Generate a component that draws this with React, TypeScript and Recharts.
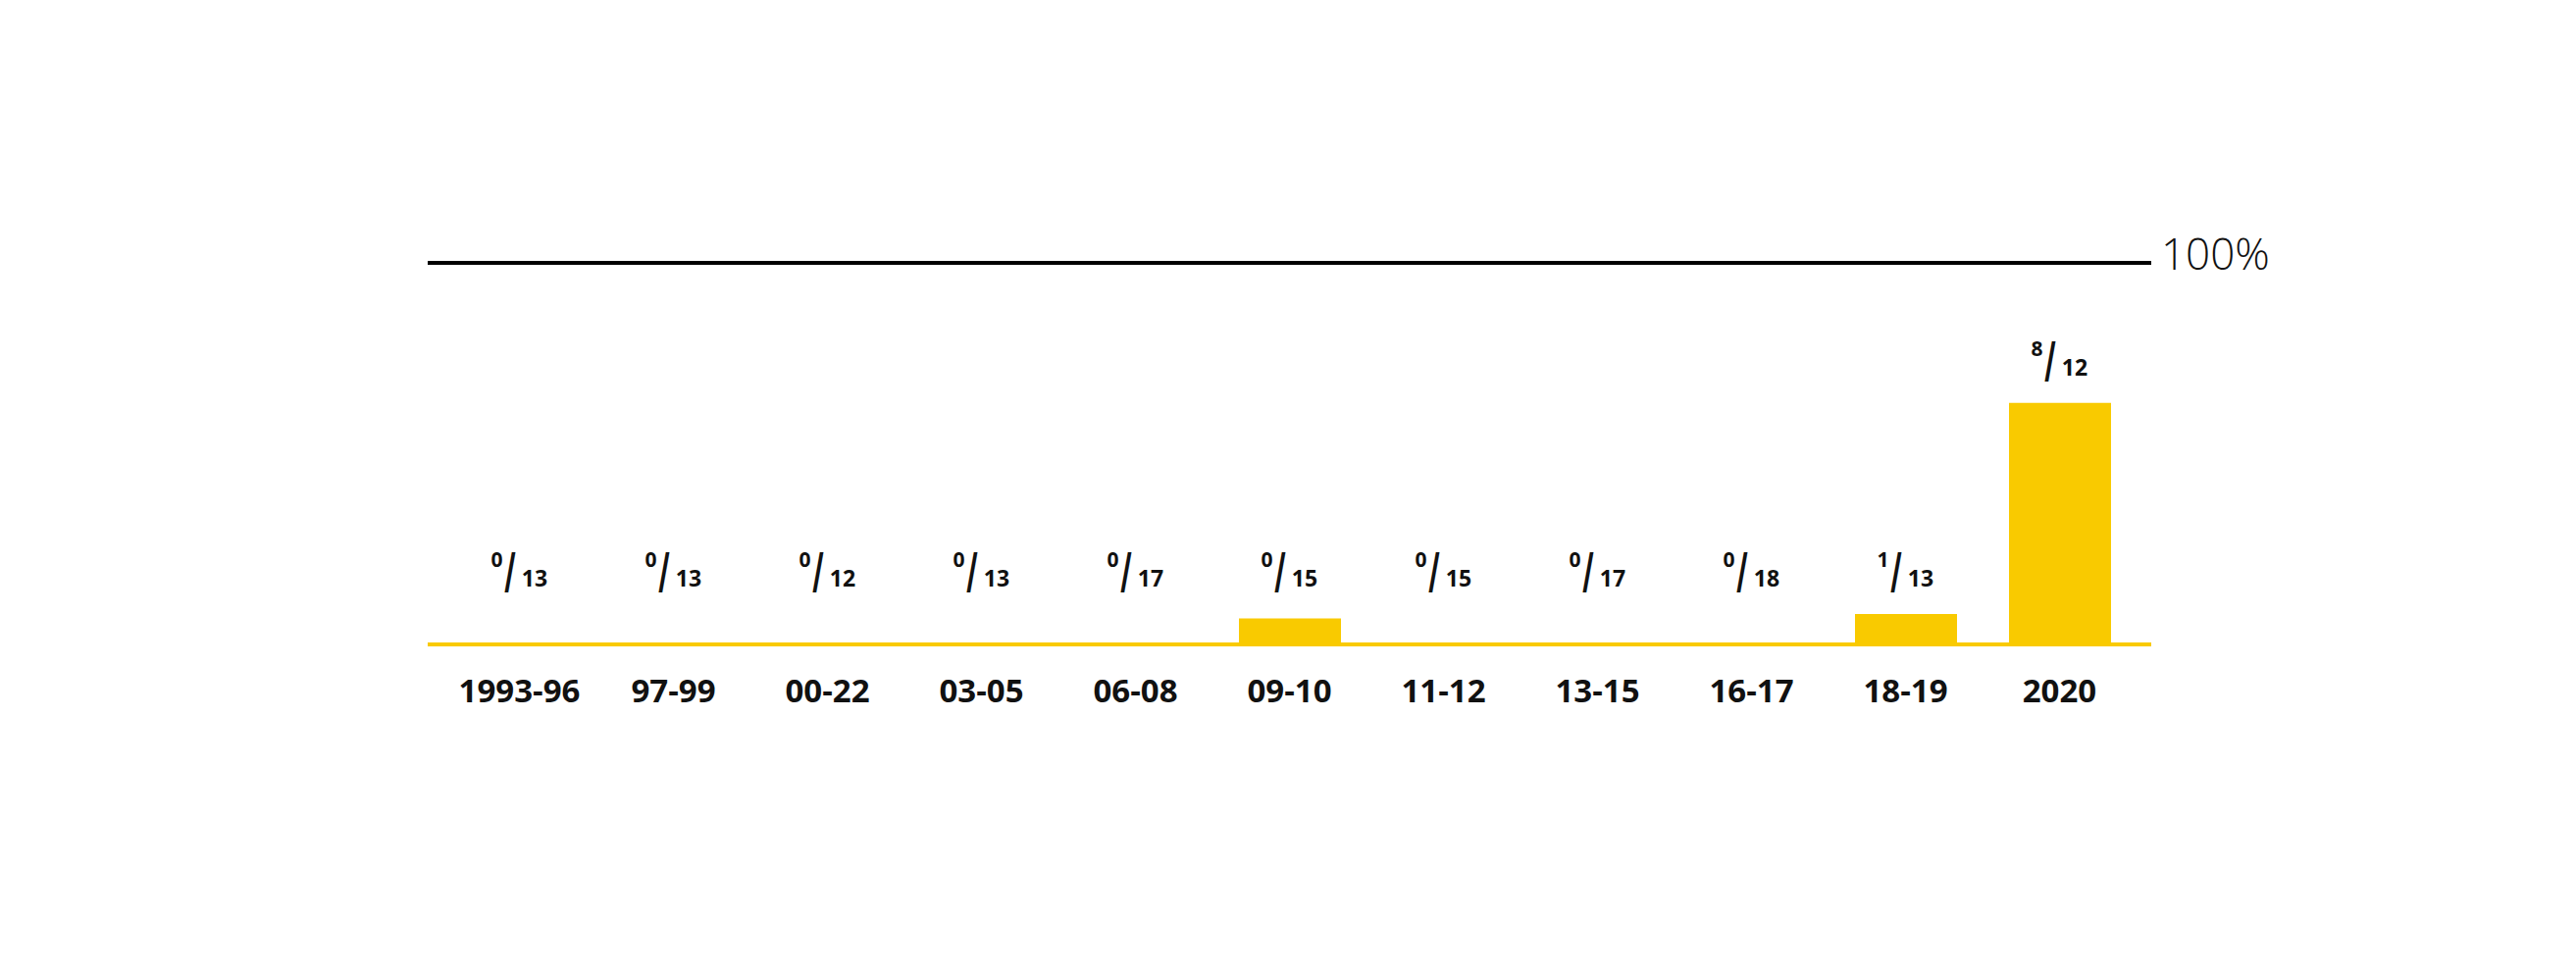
import React from 'react'
import { BarChart, Bar, XAxis, YAxis, ReferenceLine, LabelList } from 'recharts'

const periods = ['1993-96', '97-99', '00-22', '03-05', '06-08', '09-10', '11-12', '13-15', '16-17', '18-19', '2020']
const shares = [0, 0, 0, 0, 0, 6.8, 0, 0, 0, 8.0, 63.3]
const hits = [0, 0, 0, 0, 0, 0, 0, 0, 0, 1, 8]
const totals = [13, 13, 12, 13, 17, 15, 15, 17, 18, 13, 12]

const YELLOW = '#F9CA00'
const FONT = '"Open Sans", sans-serif'

const data = periods.map((period, i) => ({
  period,
  share: shares[i],
  hit: hits[i],
  total: totals[i],
}))

function PeriodTick({ x, y, payload }: any) {
  return (
    <text x={x} y={y + 59} textAnchor="middle" fontFamily={FONT} fontWeight={700} fontSize={33} fill="#111">
      {payload.value}
    </text>
  )
}

// "hit/total" written as a small fraction
function FractionLabel({ x, y, width, height, value }: any) {
  if (value == null) return null
  const [num, den] = String(value).split('/')
  const cx = x + width / 2
  const base = y + height
  const b = Math.min(y - 28, base - 59)
  return (
    <g fontFamily={FONT} fontWeight={700} fill="#111">
      <text x={cx - 23.5} y={b - 20} textAnchor="middle" fontSize={21}>{num}</text>
      <text transform={`translate(${cx - 10},${b + 6}) scale(0.48,1)`} textAnchor="middle" fontSize={57}>/</text>
      <text x={cx + 15} y={b} textAnchor="middle" fontSize={23}>{den}</text>
    </g>
  )
}

function FullLabel({ viewBox }: any) {
  return (
    <text x={viewBox.x + viewBox.width + 10} y={viewBox.y + 7} fontFamily={FONT} fontWeight={300} fontSize={44} fill="#111">
      100%
    </text>
  )
}

export default function App() {
  return (
    <div style={{ width: 2610, height: 976, fontFamily: FONT }}>
      <BarChart width={2610} height={976} data={data} margin={{ top: 260, right: 425, left: 428, bottom: 267 }}>
        <XAxis
          dataKey="period"
          height={60}
          padding={{ left: 15, right: 15 }}
          axisLine={{ stroke: YELLOW, strokeWidth: 4 }}
          tickLine={false}
          tickSize={0}
          tickMargin={0}
          interval={0}
          tick={<PeriodTick />}
        />
        <YAxis hide domain={[0, 100]} />
        <ReferenceLine y={100} stroke="#000" strokeWidth={4} label={<FullLabel />} />
        <Bar dataKey="share" fill={YELLOW} barSize={104} minPointSize={1} isAnimationActive={false}>
          <LabelList dataKey={(d: any) => `${d.hit}/${d.total}`} content={<FractionLabel />} />
        </Bar>
      </BarChart>
    </div>
  )
}
